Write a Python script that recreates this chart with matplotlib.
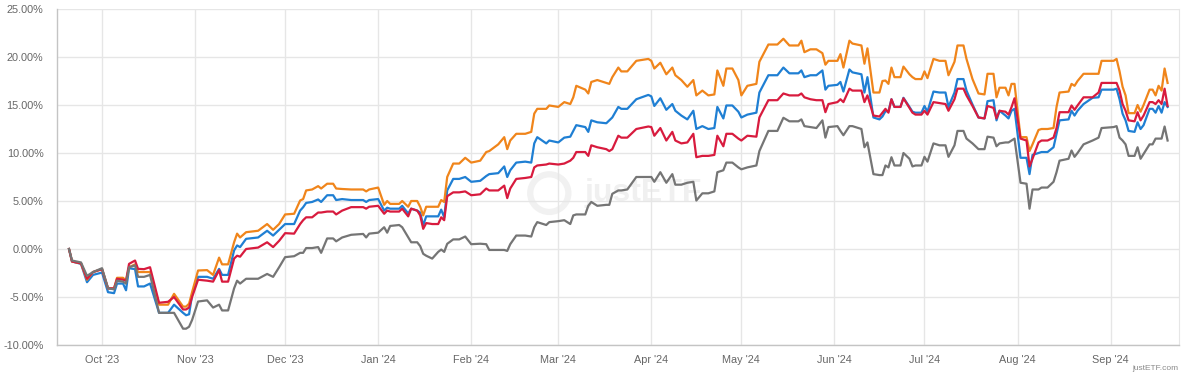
import matplotlib
matplotlib.use("Agg")
import matplotlib.pyplot as plt
import matplotlib.dates as mdates
from matplotlib.patches import Ellipse
from matplotlib.ticker import FuncFormatter, MultipleLocator
import pandas as pd

plt.rcParams["font.family"] = ["Liberation Sans", "DejaVu Sans"]

# calendar days after the start date
START = "2023-09-20"
DAYS = [
    0, 1, 4, 6, 8, 11, 13, 15, 16, 18,
    19, 20, 22, 23, 25, 27, 30, 33, 35, 38,
    39, 40, 41, 43, 46, 48, 50, 51, 53, 55,
    56, 57, 59, 63, 66, 68, 70, 72, 75, 77,
    78, 79, 81, 83, 84, 86, 88, 89, 91, 94,
    98, 99, 100, 103, 105, 106, 107, 110, 111, 113,
    114, 116, 117, 118, 119, 121, 123, 124, 125, 126,
    128, 130, 132, 134, 137, 139, 140, 143, 145, 146,
    147, 149, 152, 154, 155, 156, 159, 160, 163, 165,
    167, 168, 169, 172, 173, 174, 176, 179, 180, 181,
    183, 184, 186, 189, 193, 194, 195, 197, 199, 201,
    202, 204, 206, 208, 209, 211, 213, 215, 216, 218,
    219, 221, 223, 224, 226, 229, 230, 233, 236, 238,
    240, 243, 244, 245, 247, 249, 251, 252, 253, 256,
    257, 258, 260, 261, 264, 265, 266, 268, 270, 271,
    272, 273, 274, 275, 277, 278, 280, 281, 282, 284,
    285, 286, 288, 290, 292, 293, 295, 296, 298, 299,
    301, 303, 305, 306, 308, 309, 310, 312, 313, 314,
    315, 317, 319, 320, 321, 323, 324, 326, 328, 329,
    330, 333, 334, 335, 336, 338, 341, 343, 344, 348,
    349, 350, 351, 352, 353, 355, 356, 357, 358, 360,
    361, 362, 363, 364, 365, 366,
]

ORANGE = [
    0, -1.3, -1.5, -3.2, -2.4, -2.1, -4.1, -4.1, -3.0, -3.0,
    -3.3, -1.9, -1.6, -2.4, -2.4, -2.4, -5.8, -5.8, -4.67, -6.0,
    -6.0, -5.7, -4.5, -2.24, -2.2, -2.7, -0.9, -1.6, -1.6, 0.7,
    1.6, 1.2, 1.75, 1.9, 2.6, 2.0, 2.6, 3.6, 3.67, 5.05,
    5.2, 6.1, 6.2, 6.55, 6.3, 6.8, 6.8, 6.3, 6.25, 6.2,
    6.2, 6.0, 6.2, 6.4, 4.6, 5.0, 4.7, 4.7, 5.0, 4.4,
    5.0, 5.0, 4.4, 3.5, 4.4, 4.4, 4.4, 5.1, 4.9, 7.5,
    8.9, 8.9, 9.5, 9.0, 9.2, 10.1, 10.2, 10.9, 11.65, 10.4,
    11.3, 12.0, 12.0, 12.2, 14.1, 14.6, 14.6, 14.95, 14.8, 15.3,
    15.1, 15.8, 17.0, 16.6, 16.2, 17.4, 17.6, 17.3, 17.2, 17.9,
    18.9, 18.5, 18.5, 19.6, 19.8, 19.6, 18.8, 19.4, 18.2, 18.9,
    18.1, 17.6, 16.9, 17.6, 16.0, 16.5, 16.0, 16.1, 18.6, 17.0,
    18.8, 18.8, 17.6, 16.0, 17.0, 17.2, 19.5, 21.3, 21.3, 21.9,
    21.2, 21.2, 21.7, 20.5, 20.8, 20.8, 20.4, 19.2, 19.6, 19.6,
    20.3, 18.9, 21.7, 21.4, 21.2, 19.3, 20.9, 16.3, 16.3, 17.5,
    17.55, 17.2, 18.9, 17.9, 17.9, 19.0, 18.2, 17.9, 17.7, 17.7,
    18.5, 17.8, 19.8, 19.6, 19.6, 18.1, 19.5, 21.2, 21.2, 19.8,
    17.7, 16.2, 16.1, 18.25, 18.25, 15.8, 16.8, 16.8, 16.0, 17.2,
    17.2, 11.65, 11.65, 10.2, 10.9, 12.4, 12.5, 12.5, 12.6, 14.8,
    16.3, 16.4, 17.2, 17.0, 17.5, 18.25, 18.25, 18.25, 19.6, 19.6,
    19.8, 18.5, 16.9, 16.0, 14.15, 14.15, 15.0, 14.3, 15.0, 16.6,
    16.6, 16.0, 17.0, 16.5, 18.8, 17.3,
]

BLUE = [
    0, -1.3, -1.55, -3.46, -2.7, -2.45, -4.5, -4.6, -3.6, -3.6,
    -4.3, -2.0, -2.1, -3.9, -3.9, -3.6, -6.65, -6.65, -5.8, -6.65,
    -6.9, -6.8, -4.8, -2.9, -2.9, -3.1, -2.07, -2.7, -2.7, -0.15,
    0.37, 0.2, 1.06, 1.2, 1.9, 1.4, 2.0, 2.6, 2.6, 4.0,
    4.35, 4.8, 4.9, 5.16, 4.9, 5.6, 5.6, 5.1, 5.2, 5.1,
    5.1, 4.9, 5.1, 5.2, 4.0, 4.3, 4.2, 4.2, 4.5, 3.7,
    4.2, 4.0, 3.8, 2.45, 3.4, 3.4, 3.4, 4.1, 3.3, 6.1,
    7.3, 7.3, 7.5, 7.0, 7.1, 7.6, 7.8, 7.9, 8.6, 7.5,
    8.2, 9.0, 9.1, 9.0, 11.0, 11.65, 11.0, 11.3, 11.1, 11.6,
    11.7, 12.3, 12.9, 12.7, 12.2, 13.4, 13.2, 13.1, 13.4, 13.7,
    14.8, 14.6, 14.6, 15.6, 16.05, 15.9, 14.9, 15.7, 14.5, 15.1,
    14.4, 13.9, 13.5, 14.4, 12.5, 12.8, 12.5, 12.6, 14.8, 13.6,
    14.95, 14.95, 14.3, 13.7, 14.0, 14.2, 16.3, 18.1, 18.1, 18.9,
    18.3, 18.3, 18.6, 17.9, 18.1, 18.1, 18.6, 16.6, 17.0, 17.1,
    17.4, 16.4, 18.7, 18.4, 18.2, 16.3, 17.9, 13.7, 13.5, 13.8,
    14.35, 14.35, 15.6, 14.8, 14.8, 15.75, 14.8, 14.3, 14.2, 14.2,
    14.9, 14.3, 16.4, 16.3, 16.3, 14.8, 16.3, 17.7, 17.7, 16.5,
    15.05, 13.7, 13.6, 15.4, 15.5, 13.4, 14.4, 13.9, 13.6, 14.4,
    14.6, 9.5, 9.5, 7.8, 9.8, 10.0, 10.1, 10.1, 10.6, 12.0,
    13.4, 13.5, 14.4, 13.9, 14.4, 15.1, 15.75, 15.8, 16.6, 16.6,
    16.7, 15.6, 14.1, 13.4, 12.3, 12.2, 13.2, 12.5, 12.9, 14.6,
    14.6, 14.2, 14.9, 14.2, 15.3, 14.8,
]

RED = [
    0, -1.3, -1.5, -3.1, -2.4, -2.1, -4.1, -4.1, -3.1, -3.2,
    -3.3, -1.55, -1.2, -2.07, -2.1, -1.9, -5.6, -5.5, -5.0, -6.3,
    -6.3, -6.1, -5.0, -3.2, -3.3, -3.4, -2.2, -3.4, -3.4, -1.0,
    -0.7, -0.8, 0.0, 0.15, 0.7, 0.2, 0.85, 1.65, 1.6, 2.6,
    3.0, 3.3, 3.3, 3.8, 3.8, 3.9, 3.9, 3.6, 4.0, 4.36,
    4.36, 4.2, 4.4, 4.5, 3.67, 4.0, 3.9, 3.9, 4.2, 3.4,
    4.2, 4.0, 3.5, 2.1, 2.7, 2.6, 2.6, 3.3, 3.0, 5.5,
    5.9, 5.9, 6.0, 5.6, 5.7, 6.3, 6.1, 6.1, 6.6, 5.3,
    6.3, 7.3, 7.4, 7.5, 8.5, 8.7, 8.8, 8.9, 8.8, 8.9,
    9.2, 9.5, 10.1, 10.1, 9.7, 10.8, 10.6, 10.4, 10.2, 10.4,
    11.8, 11.6, 11.6, 12.5, 12.76, 12.7, 11.8, 12.6, 11.3, 12.2,
    11.3, 11.0, 11.1, 12.0, 9.56, 9.7, 9.7, 9.8, 11.8, 10.7,
    12.0, 12.0, 11.5, 11.3, 11.8, 11.7, 13.7, 15.5, 15.5, 16.2,
    16.0, 16.0, 16.2, 15.8, 15.6, 15.5, 15.5, 14.25, 15.1, 15.3,
    15.6, 15.3, 16.7, 16.5, 16.5, 15.3, 16.0, 13.9, 13.8, 14.2,
    14.6, 14.2, 15.6, 14.8, 14.8, 15.7, 14.7, 14.2, 14.0, 14.0,
    14.4, 14.0, 15.3, 15.2, 15.1, 14.4, 15.6, 16.7, 16.7, 16.0,
    14.9, 13.7, 13.6, 14.9, 14.7, 13.6, 14.4, 14.3, 14.0, 14.77,
    15.7, 11.5, 11.3, 8.6, 9.4, 11.1, 11.3, 11.3, 11.6, 12.6,
    14.25, 14.25, 14.95, 14.5, 14.95, 15.8, 15.8, 16.3, 17.3, 17.3,
    17.3, 16.5, 15.1, 14.4, 13.4, 13.3, 14.25, 13.4, 13.9, 15.3,
    15.3, 15.1, 15.5, 15.1, 16.7, 14.9,
]

GREY = [
    0, -1.2, -1.4, -2.8, -2.4, -2.0, -4.1, -4.2, -3.3, -3.4,
    -3.6, -1.9, -1.7, -2.9, -2.9, -2.7, -6.65, -6.65, -6.65, -8.3,
    -8.3, -8.1, -7.4, -5.47, -5.35, -6.1, -5.8, -6.4, -6.4, -4.1,
    -3.3, -3.6, -3.1, -3.1, -2.6, -2.9, -1.9, -0.85, -0.75, -0.4,
    -0.4, 0.1, 0.1, 0.2, -0.4, 1.1, 1.1, 0.8, 1.2, 1.48,
    1.57, 1.2, 1.6, 1.7, 2.27, 1.7, 2.4, 2.5, 2.27, 1.23,
    0.7, 0.7, 0.3, -0.5, -0.7, -1.0, -0.3, -0.06, -0.3, 0.54,
    1.0, 1.0, 1.3, 0.5, 0.55, 0.5, -0.1, -0.1, -0.1, -0.2,
    0.5, 1.4, 1.4, 1.3, 2.27, 2.8, 2.5, 2.8, 2.9, 3.0,
    2.6, 3.5, 3.6, 3.6, 4.5, 4.9, 4.5, 4.6, 4.6, 5.75,
    6.1, 6.1, 6.2, 7.5, 7.5, 7.5, 7.0, 8.0, 6.9, 7.8,
    6.7, 6.7, 6.9, 7.0, 5.05, 5.8, 5.8, 6.0, 8.0, 8.2,
    9.0, 9.0, 8.5, 8.3, 8.5, 8.7, 10.2, 12.3, 12.3, 13.67,
    13.3, 13.3, 13.5, 12.8, 12.7, 12.6, 13.4, 11.6, 12.7, 12.8,
    12.3, 11.85, 12.8, 12.8, 12.5, 10.6, 11.1, 7.8, 7.7, 7.7,
    8.7, 8.5, 9.56, 8.7, 8.7, 10.0, 9.4, 8.6, 8.7, 8.7,
    9.6, 9.1, 11.0, 10.8, 10.8, 9.6, 10.8, 12.3, 12.3, 11.5,
    11.0, 10.4, 10.4, 11.7, 11.6, 10.7, 11.0, 11.1, 11.1, 11.3,
    11.5, 6.9, 6.8, 4.2, 6.2, 6.2, 6.4, 6.4, 7.0, 8.0,
    9.2, 9.4, 10.26, 9.6, 10.0, 10.9, 11.3, 11.6, 12.6, 12.7,
    12.8, 11.6, 11.3, 10.9, 9.7, 9.7, 10.6, 9.4, 9.9, 10.9,
    10.9, 11.5, 11.5, 11.5, 12.76, 11.3,
]

dates = pd.Timestamp(START) + pd.to_timedelta(DAYS, unit="D")

fig = plt.figure(figsize=(11.87, 3.75), dpi=100)
ax = fig.add_axes([57.3 / 1187, 1 - 345 / 375, (1179.3 - 57.3) / 1187, 336 / 375])

# drawing order: blue under, grey on top
ax.plot(dates, BLUE, color="#1f7fd3", lw=1.6, zorder=3)
ax.plot(dates, ORANGE, color="#f0851b", lw=1.6, zorder=4)
ax.plot(dates, RED, color="#d81b3e", lw=1.6, zorder=5)
ax.plot(dates, GREY, color="#757575", lw=1.6, zorder=6)

ax.set_ylim(-10, 25)
ax.set_xlim(pd.Timestamp(START) - pd.Timedelta(days=3.9),
            pd.Timestamp(START) + pd.Timedelta(days=369.9))
ax.yaxis.set_major_locator(MultipleLocator(5))
ax.yaxis.set_major_formatter(FuncFormatter(lambda v, _: f"{v:.2f}%"))
ax.xaxis.set_major_locator(mdates.MonthLocator())
ax.xaxis.set_major_formatter(mdates.DateFormatter("%b '%y"))

ax.grid(True, color="#e6e6e6", lw=1.0, zorder=0)
ax.tick_params(length=0, labelsize=7.8, labelcolor="#666666")
ax.tick_params(axis="y", pad=10)
ax.tick_params(axis="x", pad=7)
for side in ("left", "bottom"):
    ax.spines[side].set_color("#c4c4c4")
    ax.spines[side].set_linewidth(1.0)
ax.spines["right"].set_color("#e6e6e6")
ax.spines["top"].set_visible(False)

# faint watermark
ax.add_patch(Ellipse((0.4385, 0.452), 0.034, 0.112, transform=ax.transAxes,
                     fill=False, ec="#f1f1f1", lw=4.5, zorder=1))
ax.text(0.470, 0.452, "justETF", transform=ax.transAxes, fontsize=23,
        color="#f0f0f0", ha="left", va="center", fontweight="bold", zorder=1)

fig.text(1178 / 1187, 1 - 369 / 375, "justETF.com", fontsize=6,
         color="#8a8a8a", ha="right", va="center")

fig.savefig("out.png", dpi=100)
